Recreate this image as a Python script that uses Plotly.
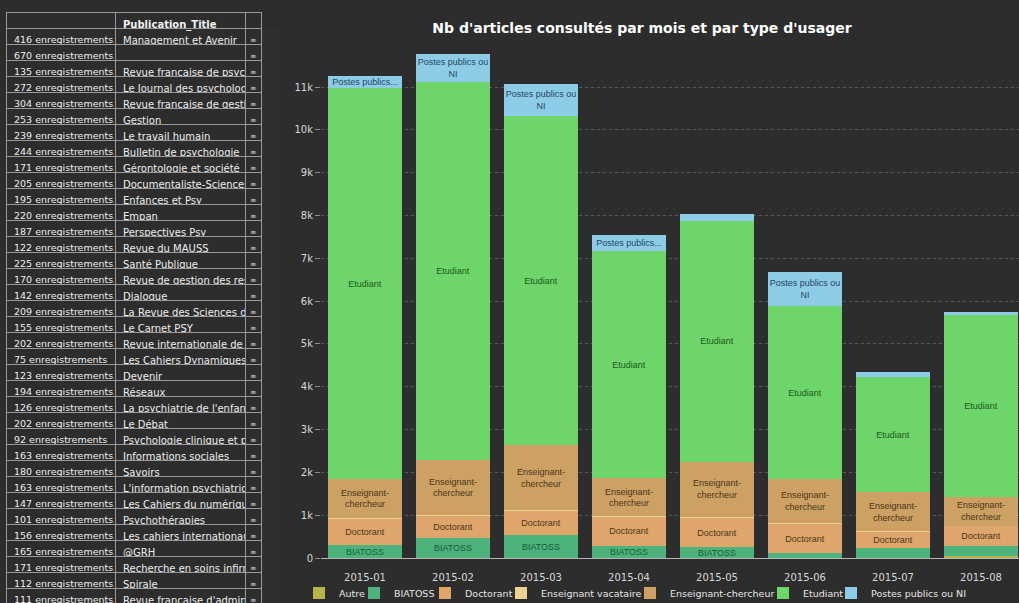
import plotly.graph_objects as go

W, H = 1019, 603
BG = "#2d2d2d"

# ---- table data ----
record_counts = [416, 670, 135, 272, 304, 253, 239, 244, 171, 205, 195, 220, 187, 122,
                 225, 170, 142, 209, 155, 202, 75, 123, 194, 126, 202, 92, 163, 180,
                 163, 147, 101, 156, 165, 171, 112, 111]
publication_titles = [
    "Management et Avenir", "", "Revue française de psycha", "Le Journal des psychologue",
    "Revue française de gestion", "Gestion", "Le travail humain", "Bulletin de psychologie",
    "Gérontologie et société", "Documentaliste-Sciences de", "Enfances et Psy", "Empan",
    "Perspectives Psy", "Revue du MAUSS", "Santé Publique", "Revue de gestion des ress",
    "Dialogue", "La Revue des Sciences de G", "Le Carnet PSY", "Revue internationale de ps",
    "Les Cahiers Dynamiques", "Devenir", "Réseaux", "La psychiatrie de l'enfant", "Le Débat",
    "Psychologie clinique et proj", "Informations sociales", "Savoirs",
    "L'information psychiatrique", "Les Cahiers du numérique", "Psychothérapies",
    "Les cahiers internationaux", "@GRH", "Recherche en soins infirmie", "Spirale",
    "Revue française d'administ",
]

# ---- chart data ----
months = ["2015-01", "2015-02", "2015-03", "2015-04", "2015-05", "2015-06", "2015-07", "2015-08"]
autre = [0, 0, 0, 0, 0, 0, 0, 40]
biatoss = [300, 470, 530, 280, 250, 110, 230, 240]
doctorant = [620, 520, 570, 685, 690, 680, 380, 470]
ens_vacataire = [25, 20, 20, 5, 20, 20, 20, 5]
ens_chercheur = [895, 1270, 1510, 890, 1290, 1030, 900, 680]
etudiant = [9130, 8830, 7690, 5310, 5620, 4050, 2690, 4240]
postes = [280, 670, 750, 380, 170, 780, 130, 70]
y_ticks = [0, 1000, 2000, 3000, 4000, 5000, 6000, 7000, 8000, 9000, 10000, 11000]

biatoss_labels = ["BIATOSS"] * 5 + [""] * 3
doctorant_labels = ["Doctorant"] * 8
ec_labels = ["Enseignant-<br>chercheur"] * 8
etudiant_labels = ["Etudiant"] * 8
postes_labels = ["Postes publics...", "Postes publics ou<br>NI", "Postes publics ou<br>NI",
                 "Postes publics...", "", "Postes publics ou<br>NI", "", ""]

NB = "\u00a0"
col1 = [f"{n}{NB}enregistrements" for n in record_counts]
col2 = [t.replace(" ", NB) for t in publication_titles]
col3 = ["⚭"] * len(record_counts)

fig = go.Figure()

fig.add_trace(go.Table(
    domain=dict(x=[6 / W, 261 / W], y=[0, 1 - 12 / H]),
    columnwidth=[109, 130, 16],
    header=dict(values=["", "Publication_Title", ""], height=16, fill_color=BG,
                line=dict(color="#9a9a9a", width=1), align="left",
                font=dict(family="DejaVu Sans", size=10, color="#f2f2f2", weight="bold")),
    cells=dict(values=[col1, col2, col3], height=16, fill_color=BG,
               line=dict(color="#9a9a9a", width=1), align=["left", "left", "center"],
               font=dict(family="DejaVu Sans", size=[9.5, 10, 10],
                         color=["#eeeeee", "#eeeeee", "#aaaaaa"])),
))

series = [
    ("Autre", autre, "#b7b44b", None, "#333333", 10),
    ("BIATOSS", biatoss, "#4db27b", biatoss_labels, "#185c38", 26),
    ("Doctorant", doctorant, "#dfa66c", doctorant_labels, "#4a3519", 31),
    ("Enseignant vacataire", ens_vacataire, "#ead38e", None, "#333333", 84),
    ("Enseignant-chercheur", ens_chercheur, "#cda063", ec_labels, "#4a3519", 88),
    ("Etudiant", etudiant, "#6dd56a", etudiant_labels, "#1d5a1d", 23),
    ("Postes publics ou NI", postes, "#8ecbe7", postes_labels, "#24475f", 95),
]

for name, vals, color, labels, tcolor, lw in series:
    fig.add_trace(go.Bar(
        x=months, y=vals, name=name,
        marker=dict(color=color, line=dict(width=0)),
        text=labels, textposition="inside" if labels else "none",
        insidetextanchor="middle", textangle=0,
        insidetextfont=dict(family="Liberation Sans", size=9, color=tcolor),
        legendwidth=lw, hoverinfo="skip",
    ))

fig.update_layout(
    width=W, height=H,
    barmode="stack", bargap=0.17,
    paper_bgcolor=BG, plot_bgcolor=BG,
    margin=dict(l=0, r=0, t=0, b=0, autoexpand=False),
    uniformtext=dict(minsize=9, mode="show"),
    title=dict(text="<b>Nb d'articles consultés par mois et par type d'usager</b>",
               x=642 / W, xanchor="center", y=1 - 28 / H, yanchor="middle",
               font=dict(family="DejaVu Sans", size=14, color="#ffffff")),
    xaxis=dict(domain=[321 / W, 1], type="category", range=[-0.5, 7.432],
               showline=True, linecolor="#b5b5b5", linewidth=1,
               ticks="outside", ticklen=10, tickcolor="rgba(0,0,0,0)",
               showgrid=False, tickfont=dict(family="DejaVu Sans", size=10, color="#d8d8d8")),
    yaxis=dict(domain=[45 / H, (H - 44.2) / H], range=[0, 12000],
               tickmode="array", tickvals=y_ticks,
               tickformat="~s", ticks="outside", ticklen=5, tickcolor="#8c8c8c",
               showgrid=True, gridcolor="#5a5a5a", griddash="dot", gridwidth=1,
               zeroline=False, showline=False,
               tickfont=dict(family="DejaVu Sans", size=10, color="#d8d8d8")),
    legend=dict(orientation="h", x=299 / W, xanchor="left", y=(H - 593) / H, yanchor="middle",
                font=dict(family="DejaVu Sans", size=9.5, color="#e6e6e6"),
                bgcolor="rgba(0,0,0,0)", traceorder="normal"),
)

fig.write_html("out.html", config={"displayModeBar": False},
               post_script="document.body.style.margin='0';document.body.style.overflow='hidden';")
